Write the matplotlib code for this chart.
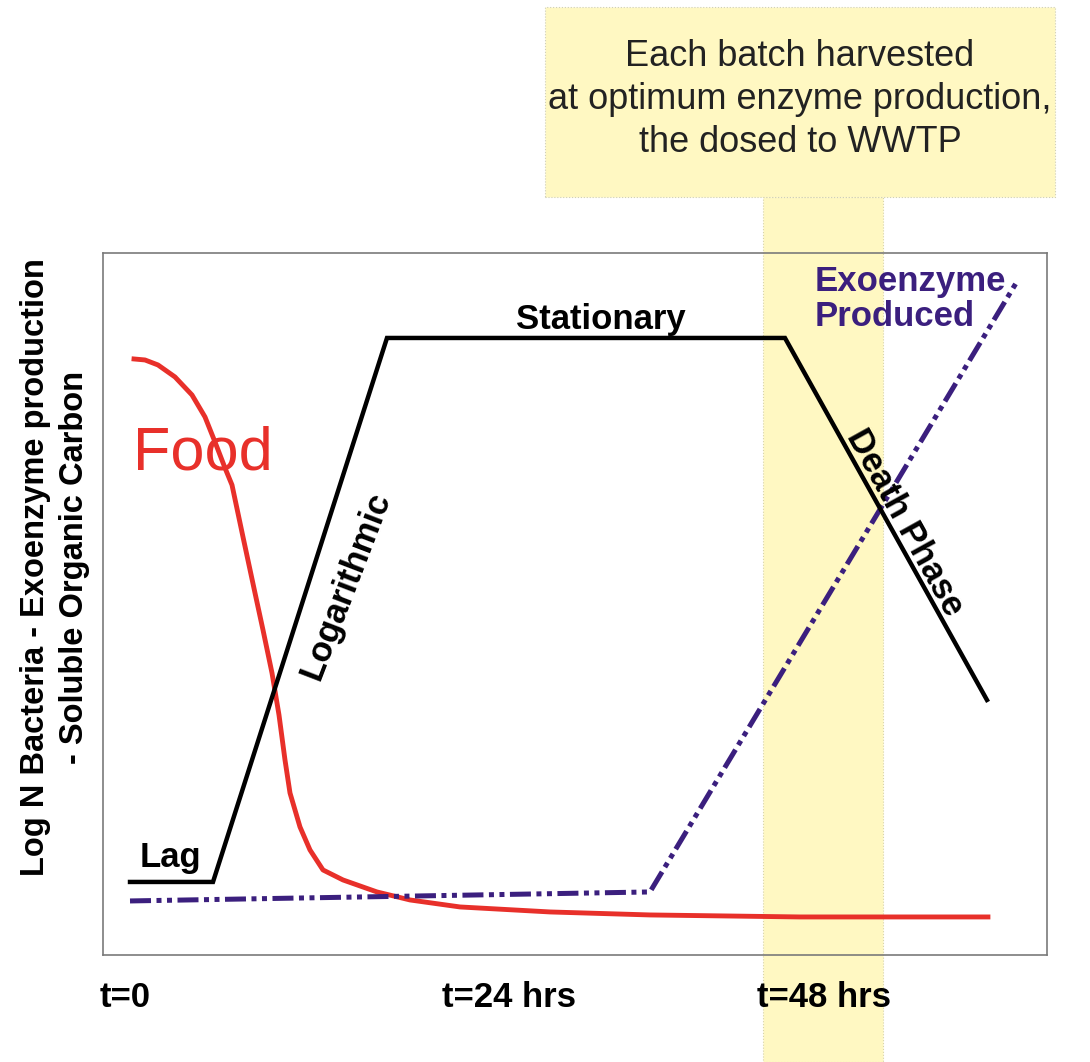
import numpy as np
import matplotlib
matplotlib.use('Agg')
import matplotlib.pyplot as plt
from matplotlib.patches import Rectangle
from matplotlib.transforms import blended_transform_factory

# schematic units (x: 0..944, y: 0..702)
bact_x = [27, 110, 284, 682, 884]
bact_y = [73, 73, 617, 617, 255]

enz_x = [27, 547, 915]
enz_y = [54, 63, 675]

food_x = [31, 42, 55, 72, 89, 102, 112, 122, 129, 140, 152, 160, 169, 176,
          182, 187, 197, 207, 220, 240, 274, 307, 357, 447, 547, 697, 885]
food_y = [596, 595, 590, 578, 560, 538, 513, 487, 470, 418, 362, 325, 282, 240,
          195, 162, 128, 105, 85, 75, 63, 55, 48, 43, 40, 38, 38]

harvest = [660, 780]

time_pos = [22, 406, 721]
time_labels = ['t=0', 't=24 hrs', 't=48 hrs']

RED = '#e8302a'
PURPLE = '#3b1f7e'
YELLOW = '#fff8c2'


def main():
    plt.rcParams['font.family'] = ['Liberation Sans', 'DejaVu Sans']

    fig = plt.figure(figsize=(10.90, 10.62), dpi=100)
    ax = fig.add_axes([0.0945, 0.1008, 0.866, 0.661])
    ax.set_xlim(0, 944)
    ax.set_ylim(0, 702)
    ax.set_xticks([])
    ax.set_yticks([])
    for s in ax.spines.values():
        s.set_color('#7a7a7a')
        s.set_linewidth(1.2)

    # harvest band, runs from the note box down past the axis
    tr = blended_transform_factory(ax.transData, fig.transFigure)
    band = Rectangle((harvest[0], 0), harvest[1] - harvest[0], 0.8145,
                     transform=tr, facecolor=YELLOW, edgecolor='#d8d4a8',
                     linestyle=':', linewidth=0.8, zorder=0.5, clip_on=False)
    ax.add_patch(band)

    box = Rectangle((0.500, 0.8145), 0.468, 0.179, transform=fig.transFigure,
                    facecolor=YELLOW, edgecolor='#cfcfb8', linestyle=':',
                    linewidth=0.8)
    fig.patches.append(box)
    fig.text(0.734, 0.906, 'Each batch harvested\nat optimum enzyme production,\nthe dosed to WWTP',
             ha='center', va='center', fontsize=26, color='#222222', linespacing=1.3)

    ax.plot(food_x, food_y, color=RED, lw=3.5, solid_joinstyle='round', zorder=3)
    ax.plot(bact_x, bact_y, color='black', lw=3.2, solid_joinstyle='miter', zorder=4)
    ax.plot(enz_x, enz_y, color=PURPLE, lw=3.6,
            linestyle=(0, (4.2, 1.1, 1.0, 1.1, 1.0, 1.1)), zorder=3)

    ax.text(30, 485, 'Food', color=RED, fontsize=44, ha='left', va='baseline')
    ax.text(67, 97, 'Lag', fontsize=25, fontweight='bold', ha='center', va='center')
    ax.text(498, 635, 'Stationary', fontsize=25, fontweight='bold', ha='center', va='center')
    ax.text(243, 370, 'Logarithmic', fontsize=25, fontweight='bold', rotation=69,
            ha='center', va='center', rotation_mode='anchor')
    ax.text(802, 432, 'Death Phase', fontsize=25, fontweight='bold', rotation=-61,
            ha='center', va='center', rotation_mode='anchor')
    ax.text(712, 656, 'Exoenzyme\nProduced', fontsize=25, fontweight='bold',
            color=PURPLE, ha='left', va='center', linespacing=1.1)

    for p, lab in zip(time_pos, time_labels):
        ax.text(p, -43, lab, fontsize=25, fontweight='bold', ha='center',
                va='center', clip_on=False)

    fig.text(55 / 1090, 1 - 567 / 1062,
             'Log N Bacteria - Exoenzyme production\n- Soluble Organic Carbon',
             rotation=90, ha='center', va='center', fontsize=23.5, fontweight='bold',
             multialignment='center', linespacing=1.35)

    fig.savefig('out.png', dpi=100)


if __name__ == "__main__":
    main()
